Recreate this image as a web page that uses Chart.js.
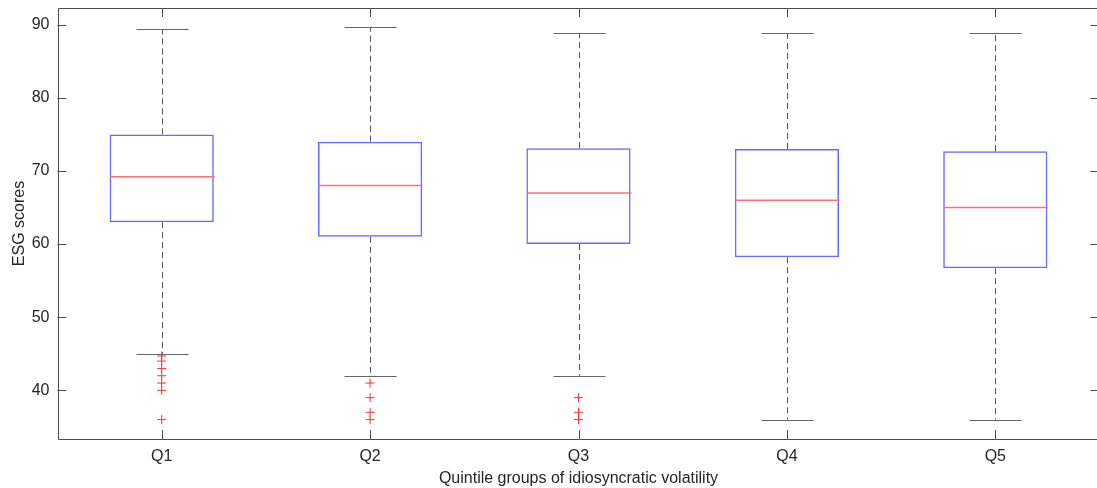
<!DOCTYPE html>
<html>
<head>
<meta charset="utf-8">
<script src="https://cdn.jsdelivr.net/npm/chart.js@4/dist/chart.umd.min.js"></script>
<style>
  html, body { margin: 0; padding: 0; background: #fff; overflow: hidden; }
  #wrap { position: relative; width: 1105px; height: 488px; }
</style>
</head>
<body>
<div id="wrap"><canvas id="boxChart"></canvas></div>
<script>
// values
const categories = ['Q1', 'Q2', 'Q3', 'Q4', 'Q5'];
const whiskerHigh = [89.4, 89.7, 88.9, 88.9, 88.9];
const upperQuartile = [75, 74, 73.1, 73, 72.7];
const medians = [69.2, 68, 67, 66, 65];
const lowerQuartile = [63, 61, 60, 58.2, 56.7];
const whiskerLow = [45, 42, 42, 36, 36];
const outliers = [
  [44.7, 44, 43, 42, 41, 40, 36],
  [41, 39, 37, 36],
  [39, 37, 36],
  [],
  []
];
const yTicks = [40, 50, 60, 70, 80, 90];

const textColor = '#262626';
const axisColor = '#4d4d4d';
const fontFamily = '"Liberation Sans", Arial, sans-serif';

const outlierPoints = [];
outliers.forEach((list, i) => {
  list.forEach(v => outlierPoints.push({ x: categories[i], y: v }));
});

// whiskers, caps, medians, frame and inward ticks (MATLAB look)
const boxplotExtras = {
  id: 'boxplotExtras',
  afterDatasetsDraw(chart) {
    const ctx = chart.ctx;
    const x = chart.scales.x;
    const y = chart.scales.y;
    const step = x.getPixelForValue(1) - x.getPixelForValue(0);
    const capHalf = step / 8;
    const boxHalf = step / 4;

    ctx.save();
    categories.forEach((c, i) => {
      const cx = Math.round(x.getPixelForValue(i)) + 0.5;

      ctx.strokeStyle = '#555';
      ctx.lineWidth = 1;
      ctx.setLineDash([6, 4]);
      ctx.beginPath();
      ctx.moveTo(cx, y.getPixelForValue(upperQuartile[i]));
      ctx.lineTo(cx, y.getPixelForValue(whiskerHigh[i]));
      ctx.moveTo(cx, y.getPixelForValue(lowerQuartile[i]));
      ctx.lineTo(cx, y.getPixelForValue(whiskerLow[i]));
      ctx.stroke();

      ctx.setLineDash([]);
      ctx.strokeStyle = '#666';
      ctx.beginPath();
      const hi = Math.round(y.getPixelForValue(whiskerHigh[i])) + 0.5;
      const lo = Math.round(y.getPixelForValue(whiskerLow[i])) + 0.5;
      ctx.moveTo(cx - capHalf, hi);
      ctx.lineTo(cx + capHalf, hi);
      ctx.moveTo(cx - capHalf, lo);
      ctx.lineTo(cx + capHalf, lo);
      ctx.stroke();

      ctx.strokeStyle = '#ff7070';
      ctx.lineWidth = 1.5;
      ctx.beginPath();
      const my = y.getPixelForValue(medians[i]);
      ctx.moveTo(cx - boxHalf, my);
      ctx.lineTo(cx + boxHalf, my);
      ctx.stroke();
    });

    const a = chart.chartArea;
    ctx.strokeStyle = axisColor;
    ctx.lineWidth = 1;
    ctx.beginPath();
    ctx.rect(Math.round(a.left) + 0.5, Math.round(a.top) + 0.5,
      Math.round(a.right - a.left), Math.round(a.bottom - a.top));
    ctx.stroke();

    const tickLen = 9;
    ctx.beginPath();
    y.ticks.forEach((t, k) => {
      const py = Math.round(y.getPixelForTick(k)) + 0.5;
      ctx.moveTo(a.left, py);
      ctx.lineTo(a.left + tickLen, py);
      ctx.moveTo(a.right, py);
      ctx.lineTo(a.right - tickLen, py);
    });
    categories.forEach((c, i) => {
      const px = Math.round(x.getPixelForValue(i)) + 0.5;
      ctx.moveTo(px, a.top);
      ctx.lineTo(px, a.top + tickLen);
      ctx.moveTo(px, a.bottom);
      ctx.lineTo(px, a.bottom - tickLen);
    });
    ctx.stroke();
    ctx.restore();
  }
};

new Chart(document.getElementById('boxChart'), {
  data: {
    labels: categories,
    datasets: [
      {
        type: 'bar',
        label: 'IQR',
        data: categories.map((c, i) => [lowerQuartile[i], upperQuartile[i]]),
        backgroundColor: 'rgba(0,0,0,0)',
        borderColor: '#6a6aff',
        borderWidth: 1.5,
        borderSkipped: false,
        barPercentage: 0.5,
        categoryPercentage: 1
      },
      {
        type: 'scatter',
        label: 'Outliers',
        data: outlierPoints,
        pointStyle: 'cross',
        radius: 4.5,
        borderColor: '#ff3030',
        borderWidth: 1,
        backgroundColor: '#ff3030'
      }
    ]
  },
  options: {
    responsive: true,
    maintainAspectRatio: false,
    animation: false,
    layout: { padding: { top: 8, right: 0, left: 0, bottom: 0 } },
    plugins: {
      legend: { display: false },
      tooltip: { enabled: false }
    },
    scales: {
      x: {
        type: 'category',
        offset: true,
        grid: { display: false, drawTicks: false },
        border: { display: false },
        ticks: {
          color: textColor,
          padding: 8,
          font: { family: fontFamily, size: 16 }
        },
        title: {
          display: true,
          text: 'Quintile groups of idiosyncratic volatility',
          color: textColor,
          font: { family: fontFamily, size: 16 },
          padding: { top: 2, bottom: 0 }
        },
        afterFit: s => {
          s.height = 49;
          s.paddingLeft = 0;
          s.paddingRight = 0;
        }
      },
      y: {
        min: 33.35,
        max: 92.28,
        grid: { display: false, drawTicks: false },
        border: { display: false },
        afterBuildTicks: s => { s.ticks = yTicks.map(v => ({ value: v })); },
        ticks: {
          color: textColor,
          padding: 8,
          font: { family: fontFamily, size: 16 }
        },
        title: {
          display: true,
          text: 'ESG scores',
          color: textColor,
          font: { family: fontFamily, size: 16 },
          padding: { top: 10, bottom: 0 }
        },
        afterFit: s => {
          s.width = 57.5;
          s.paddingTop = 0;
          s.paddingBottom = 0;
        }
      }
    }
  },
  plugins: [boxplotExtras]
});
</script>
</body>
</html>
